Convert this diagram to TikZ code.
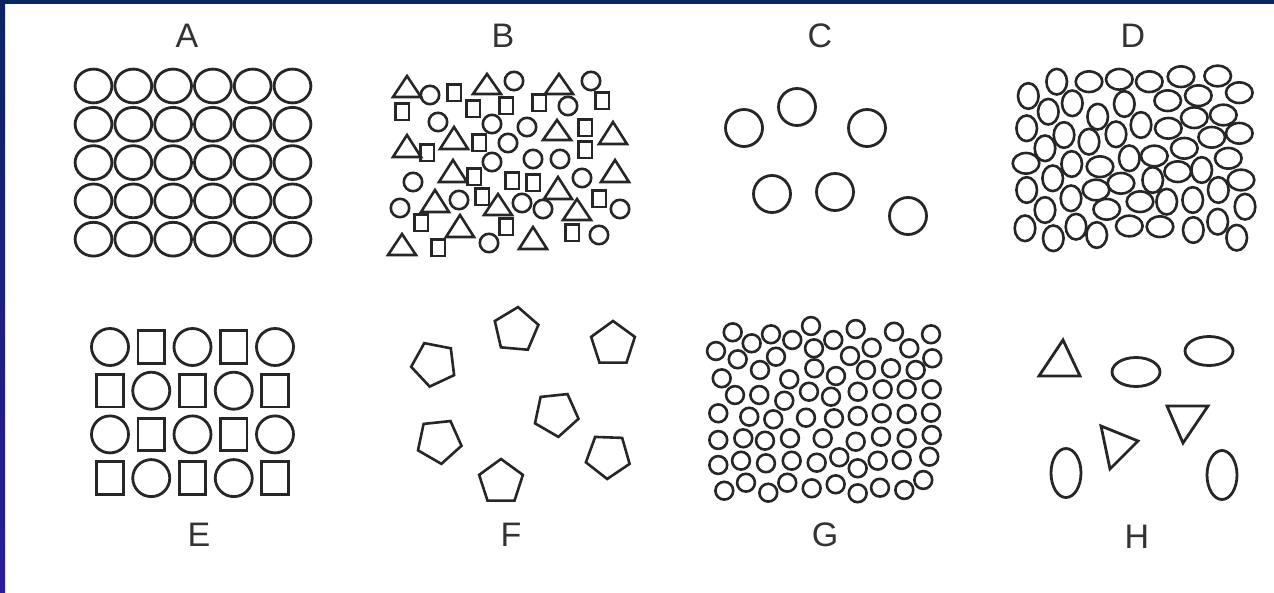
\documentclass[tikz,border=0pt]{standalone}
\usepackage{fontspec}
\setmainfont{Liberation Sans}
\usetikzlibrary{shapes.geometric}
\definecolor{linec}{HTML}{262626}
\definecolor{labc}{HTML}{333333}
\definecolor{navytop}{HTML}{0B2463}
\definecolor{navybot}{HTML}{2A1C9C}
\tikzset{
  shp/.style={draw=linec, line width=2.8pt},
  thin shp/.style={draw=linec, line width=2.6pt},
  lbl/.style={text=labc, anchor=base, inner sep=0pt, font=\fontsize{34}{40}\selectfont},
  pent/.style={regular polygon, regular polygon sides=5, minimum size=46pt, inner sep=0pt, draw=linec, line width=2.6pt}
}
\begin{document}
\begin{tikzpicture}[x=1pt,y=-1pt, line join=miter]
\useasboundingbox (0,0) rectangle (1274,593);
\fill[white] (0,0) rectangle (1274,593);
\fill[navytop] (0,0) rectangle (1274,4);
\shade[top color=navytop, bottom color=navybot] (0,0) rectangle (5,593);

% labels
\node[lbl] (la) at (187,48) {A};
\node[lbl] (lb) at (503,48) {B};
\node[lbl] (lc) at (820,48) {C};
\node[lbl] (ld) at (1133,48) {D};
\node[lbl] (le) at (199,546) {E};
\node[lbl] (lf) at (511,546) {F};
\node[lbl] (lg) at (825,546) {G};
\node[lbl] (lh) at (1137,548) {H};

% Panel A
\foreach \i in {0,...,5}
  \foreach \j in {0,...,4}
    \draw[shp] ({93.5+39.8*\i},{86+38.3*\j}) ellipse [x radius=18.4, y radius=16.9];

% Panel B: triangles
\foreach \x/\a/\b in {407/76/97, 487/74/94, 559/74/94, 557/120/140, 613/122/144, 407/135/157,
  454/127/149, 453/160/182, 615/160/182, 558/177/199, 435/190/212, 498/194/215, 577/199/220,
  460/215/237, 402/234/255, 533/227/249}
  \draw[thin shp] (\x,\a) -- ({\x-14},\b) -- ({\x+14},\b) -- cycle;
% Panel B: circles
\foreach \x/\y in {430/95, 514/81, 591/81, 568/106, 438/122, 492/124, 527/127, 508/143,
  492/162, 533/159, 560/159, 413/182, 582/178, 400/208, 459/200, 522/203, 543/209, 620/209,
  489/243, 599/235}
  \draw[thin shp] (\x,\y) circle [radius=9.2];
% Panel B: squares
\foreach \x/\y in {402/112, 454/93, 473/109, 506/106, 539/103, 602/101, 427/153, 479/143,
  585/128, 585/150, 474/177, 512/181, 533/183, 482/197, 599/199, 421/223, 506/227, 572/233, 438/248}
  \draw[thin shp] ({\x-6.8},{\y-8.2}) rectangle ({\x+6.8},{\y+8.2});

% Panel C
\foreach \x/\y in {744/128, 797/107, 867/128, 772/194, 835/192, 908/216}
  \draw[shp] (\x,\y) circle [radius=18.5];

% Panel D: vertical ellipses
\foreach \x/\y in {1056.7/81.7, 1028.3/96, 1072.3/103.3, 1124.3/104, 1048.3/111.7, 1097.7/116.7,
  1141/125, 1026.7/128.3, 1064/135, 1089/141.7, 1116/134.3, 1045/148.3, 1071.7/164, 1129.3/158.3,
  1052.7/178.3, 1201.7/170, 1026.7/190, 1152.7/180, 1071/198.3, 1166.7/201.7, 1192.7/200,
  1218.3/190, 1045/210, 1245/206.7, 1025/228.3, 1053.3/238.3, 1076/226.7, 1096.7/235,
  1193.3/230, 1217.7/221.7, 1236.7/237.7}
  \draw[thin shp] (\x,\y) ellipse [x radius=10.3, y radius=12.8];
% Panel D: horizontal ellipses
\foreach \x/\y in {1089/81.7, 1119.3/79.3, 1149.3/81.7, 1181/76.7, 1217.7/76, 1167.7/100.7,
  1198.3/95.7, 1239.3/92.7, 1168.3/128.3, 1194.3/117.7, 1223.3/115, 1211.7/137.3, 1239.3/133.3,
  1184.3/148.3, 1026/163.3, 1100/166.7, 1154.3/156, 1228.3/158.3, 1177.7/171.7, 1096/190,
  1121/183.3, 1241/180, 1140/201.7, 1106.7/209.3, 1129.3/226, 1160/226.7}
  \draw[thin shp] (\x,\y) ellipse [x radius=13.3, y radius=10.3];

% Panel E
\foreach \i in {0,...,4}
  \foreach \j in {0,...,3} {
    \pgfmathtruncatemacro{\pty}{mod(\i+\j,2)}
    \ifnum\pty=0
      \draw[shp] ({110+41.25*\i},{347+43.7*\j}) circle [radius=18.5];
    \else
      \draw[shp] ({110+41.25*\i-13.3},{347+43.7*\j-16.3}) rectangle ({110+41.25*\i+13.3},{347+43.7*\j+16.3});
    \fi
  }

% Panel F
\node[pent, rotate=25] (p1) at (434,364) {};
\node[pent, rotate=-5] (p2) at (516,330) {};
\node[pent] (p3) at (613,344) {};
\node[pent, rotate=-30] (p4) at (556,414) {};
\node[pent, rotate=-30] (p5) at (439,441) {};
\node[pent] (p6) at (501,482) {};
\node[pent, rotate=34] (p7) at (608,456) {};

% Panel G
\foreach \x/\y in {732.7/332.3, 771/334.3, 811/326, 855.7/329, 894/331.7, 931/334.3, 751.7/343.3,
  792.3/340, 814/348.3, 833.3/340, 871.7/347.7, 909.3/348.3, 716/351, 737.7/359.3, 776/356.7,
  850/356, 932.3/358.3, 814.3/368.3, 760/370, 866/370, 891/368.3, 915.7/370, 721.7/378.3,
  836/376, 789.3/379.3, 735/395, 759.3/395, 809/391.7, 831/396.7, 784.3/400.7, 857.7/391.7,
  882.7/389.3, 906.7/389.3, 931.7/389.3, 718.3/413.3, 749.3/416.7, 773.3/419.3, 806/417.7,
  834/418.3, 857.7/416, 881.7/413.3, 906.7/414, 931/412.7, 718.3/440, 743.3/438.3, 765/440.7,
  790/438.3, 822.7/438.3, 855.7/441.7, 881/436.7, 906.7/438.3, 931.7/435, 718.3/465, 741/460.7,
  766/463.3, 791.7/460.7, 816.7/462.7, 839.3/457.3, 857.7/468.3, 877.7/460.7, 901.7/460,
  929.3/456.7, 724.3/490.7, 746/482.7, 768.3/492.7, 787.3/482.7, 811.7/488.3, 835.7/484.3,
  857.7/493.3, 880/487.7, 904.3/490, 923.3/480}
  \draw[thin shp] (\x,\y) circle [radius=8.9];

% Panel H
\draw[shp] (1063,340) -- (1039,376) -- (1080,376) -- cycle;
\draw[shp] (1136,372) ellipse [x radius=24, y radius=14.5];
\draw[shp] (1209,351) ellipse [x radius=24, y radius=14.5];
\draw[shp] (1167,406) -- (1208,406) -- (1183,443) -- cycle;
\draw[shp] (1101,426) -- (1138,441) -- (1110,469) -- cycle;
\draw[shp] (1066,473) ellipse [x radius=15, y radius=24.5];
\draw[shp] (1222,475) ellipse [x radius=15, y radius=24.5];
\end{tikzpicture}
\end{document}
